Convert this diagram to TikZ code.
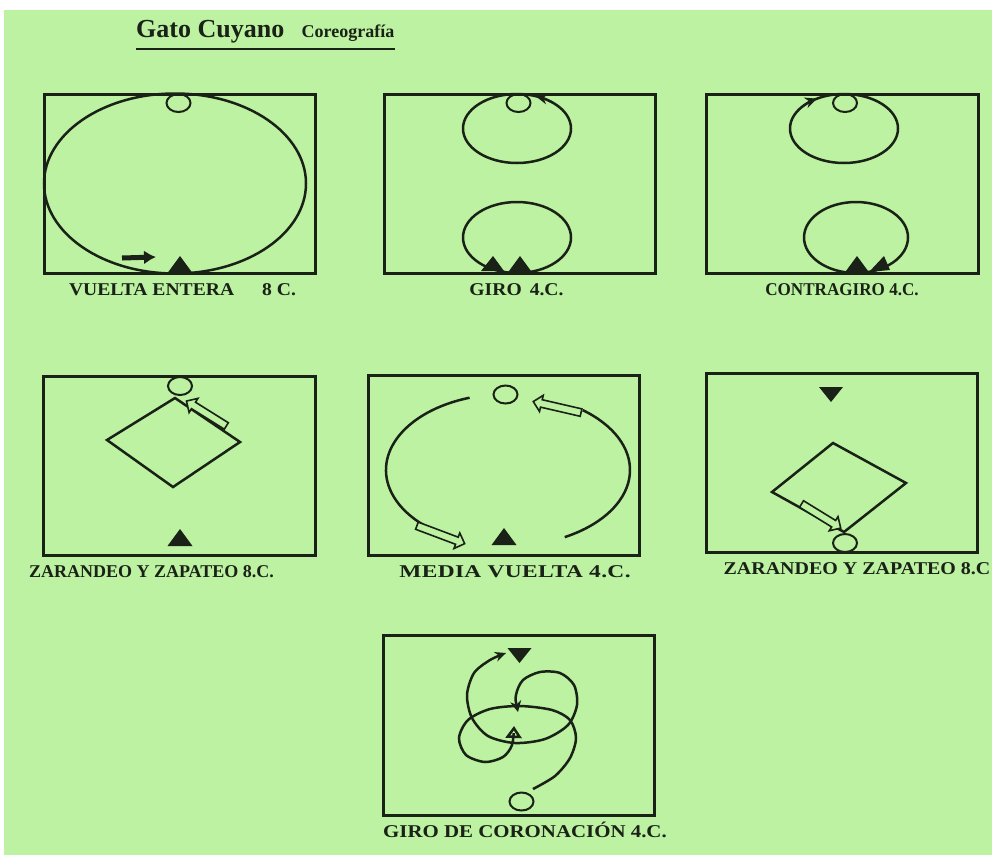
\documentclass[tikz,border=0pt]{standalone}
\usepackage{fontspec}
\setmainfont{Liberation Serif}
\usetikzlibrary{arrows.meta,positioning,shapes.geometric,shapes.arrows}
\definecolor{fondo}{HTML}{BCF2A2}
\definecolor{tinta}{HTML}{1A2116}

% varon: triangulo lleno (base en y=#2)
\newcommand{\varon}[2]{\fill[tinta] ({#1-12.5},#2) -- (#1,{#2-17}) -- ({#1+12.5},#2) -- cycle;}
\newcommand{\varonabajo}[2]{\fill[tinta] ({#1-12},#2) -- (#1,{#2+15}) -- ({#1+12},#2) -- cycle;}

\begin{document}
\begin{tikzpicture}[x=1pt, y=-1pt,
            caja/.style={draw=tinta, line width=3pt, minimum width=271pt, minimum height=179pt, inner sep=0pt, outer sep=0pt},
            etiqueta/.style={font=\fontsize{18}{20}\selectfont\bfseries\addfontfeature{#1}, text=tinta, inner sep=0pt, text height=12pt, text depth=0pt},
            etiqueta/.default={LetterSpace=0},
            dama/.style={ellipse, draw=tinta, line width=2pt, minimum width=24pt, minimum height=18pt, inner sep=0pt},
            trazo/.style={draw=tinta, line width=2.5pt},
            flecha/.style={-{Latex[length=12pt,width=14pt]}, line width=5pt, tinta},
            punta/.style={tinta, line width=2pt, -{Stealth[length=12pt,width=11pt]}},
            hueca/.style={single arrow, draw=tinta, fill=fondo, line width=1.6pt, inner sep=3pt, single arrow head extend=4.5pt, minimum height=#1}
        ]
\useasboundingbox (0,0) rectangle (992,855);
\fill[white] (0,0) rectangle (992,855);
\fill[fondo] (4,10) rectangle (992,855);

% titulo
\node[font=\fontsize{26}{28}\selectfont\bfseries, text=tinta, inner sep=0pt, anchor=base west] (titulo) at (136,37) {Gato Cuyano};
\node[font=\fontsize{18}{20}\selectfont\bfseries, text=tinta, inner sep=0pt, anchor=base west] (subtitulo) at ([xshift=17pt]titulo.base east) {Coreografía};
\draw[tinta, line width=2.2pt] ([yshift=-12pt]titulo.base west) -- ([yshift=-12pt]subtitulo.base east);

% cajas
\node[caja] (c1) at (179.5,183.5) {};
\node[caja, right=69pt of c1] (c2) {};
\node[caja, right=51pt of c2, minimum width=272pt] (c3) {};
\node[caja, below=103pt of c1, minimum width=272pt] (c4) {};
\node[caja, right=53pt of c4, minimum height=180pt] (c5) {};
\node[caja, right=67pt of c5, yshift=2.5pt] (c6) {};
\node[caja, below=80pt of c5, xshift=15pt, minimum height=180pt] (c7) {};

% etiquetas
\node[etiqueta={FakeStretch=1.09}, below=10pt of c1, xshift=3pt] (e1) {VUELTA ENTERA\hspace{28pt}8 C.};
\node[etiqueta={FakeStretch=1.09}, below=10pt of c2, xshift=-3pt] (e2) {GIRO\hspace{8pt}4.C.};
\node[etiqueta={FakeStretch=0.95}, below=10pt of c3] (e3) {CONTRAGIRO 4.C.};
\node[etiqueta, below=10pt of c4, xshift=-28pt] (e4) {ZARANDEO Y ZAPATEO 8.C.};
\node[etiqueta={FakeStretch=1.3,LetterSpace=2}, below=10pt of c5, xshift=11pt] (e5) {MEDIA VUELTA 4.C.};
\node[etiqueta={FakeStretch=1.11}, below=10pt of c6, xshift=15pt] (e6) {ZARANDEO Y ZAPATEO 8.C};
\node[etiqueta={FakeStretch=1.16}, below=10pt of c7, xshift=6pt] (e7) {GIRO DE CORONACIÓN 4.C.};

% vuelta entera
\draw[trazo] (175,183.5) ellipse [x radius=131, y radius=90];
\node[dama] (d1) at (178.5,103) {};
\varon{180}{273}
\coordinate (f1a) at (122,258);
\coordinate (f1b) at (156,257);
\draw[flecha] (f1a) -- (f1b);

% giro
\draw[trazo] (517,128.5) ellipse [x radius=54, y radius=34.5];
\draw[trazo] (517,237.5) ellipse [x radius=54, y radius=35.5];
\node[dama] (d2) at (518.5,103) {};
\draw[punta] (517,128.5) ++(-48:54 and 34.5) arc[start angle=-48, end angle=-70, x radius=54, y radius=34.5];
\varon{520}{273}
\fill[tinta] (481,271) -- (493,256) -- (504,271) -- cycle;

% contragiro
\draw[trazo] (844,128.5) ellipse [x radius=54, y radius=34.5];
\draw[trazo] (856,237.5) ellipse [x radius=52, y radius=35.5];
\node[dama] (d3) at (845,103) {};
\draw[punta] (844,128.5) ++(-142:54 and 34.5) arc[start angle=-142, end angle=-120, x radius=54, y radius=34.5];
\varon{857}{273}
\fill[tinta] (869,272) -- (884,256) -- (890,270) -- cycle;

% zarandeo y zapateo (1)
\draw[trazo, line join=miter] (175,398) -- (240,442) -- (173,487) -- (107,440) -- cycle;
\node[dama] (d4) at (180,386) {};
\node[hueca=47pt, rotate=148] (h4) at (208,414.5) {};
\varon{180}{546}

% media vuelta
\draw[trazo] (507,470) ++(252:121 and 76) arc[start angle=252, end angle=112, x radius=121, y radius=76];
\draw[trazo] (507,470) ++(62:123 and 76) arc[start angle=62, end angle=-52, x radius=123, y radius=76];
\node[dama] (d5) at (505.5,394.5) {};
\node[hueca=51pt, rotate=-20.6] (h5a) at (439,534) {};
\node[hueca=49pt, rotate=167] (h5b) at (559,407.5) {};
\varon{504}{545}

% zarandeo y zapateo (2)
\varonabajo{831}{387}
\draw[trazo, line join=miter] (833,443) -- (906,483) -- (844,532) -- (772,492) -- cycle;
\node[hueca=46pt, rotate=-31.6] (h6) at (819.5,515) {};
\node[dama] (d6) at (845,543) {};

% giro de coronacion
\varonabajo{519.5}{648}
\node[dama] (d7) at (521.5,801.5) {};
\draw[tinta, line width=2.5pt, -{Triangle[open, length=12pt, width=16pt]}] plot[smooth] coordinates {(533,789) (555,776) (570,758) (576,738) (570,720) (552,710) (520,706) (490,709) (468,720) (459,738) (466,755) (485,762) (503,757) (512,745) (514,726)};
\draw[tinta, line width=2.5pt, {Stealth[length=11pt,width=11pt]}-{Stealth[length=11pt,width=10pt]}] plot[smooth] coordinates {(518,712) (516,695) (523,680) (540,672) (560,673) (574,685) (577,705) (568,725) (545,739) (515,743) (488,736) (472,718) (467,695) (474,673) (490,660) (506,653)};
\end{tikzpicture}
\end{document}
